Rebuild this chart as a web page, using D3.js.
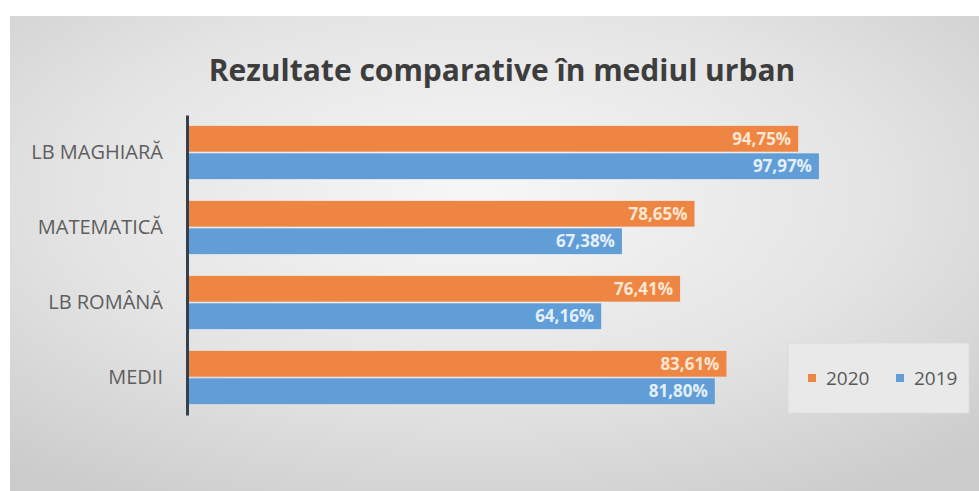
<!DOCTYPE html>
<html>
<head>
<meta charset="utf-8">
<script src="https://cdn.jsdelivr.net/npm/d3@7"></script>
<style>
  html, body { margin: 0; padding: 0; background: #ffffff; }
  #chart { width: 979px; height: 491px; }
</style>
</head>
<body>
<div id="chart"></div>
<script>
// Data
const categories = ['LB MAGHIARĂ', 'MATEMATICĂ', 'LB ROMÂNĂ', 'MEDII'];
const seriesNames = ['2020', '2019'];
const values2020 = [94.75, 78.65, 76.41, 83.61];
const values2019 = [97.97, 67.38, 64.16, 81.80];
const titleText = 'Rezultate comparative în mediul urban';

const width = 979, height = 491;
const colors = { '2020': '#ee8543', '2019': '#619ed8' };

const rows = categories.map((c, i) => ({ cat: c, '2020': values2020[i], '2019': values2019[i] }));

const svg = d3.select('#chart').append('svg')
  .attr('width', width)
  .attr('height', height);

// Background panel with soft radial shading
const defs = svg.append('defs');
const grad = defs.append('radialGradient')
  .attr('id', 'bg')
  .attr('cx', '48%').attr('cy', '38%').attr('r', '75%');
grad.append('stop').attr('offset', '0%').attr('stop-color', '#f7f7f7');
grad.append('stop').attr('offset', '55%').attr('stop-color', '#e4e4e4');
grad.append('stop').attr('offset', '100%').attr('stop-color', '#cbcbcb');

svg.append('rect')
  .attr('x', 10).attr('y', 16)
  .attr('width', width - 10).attr('height', height - 16)
  .attr('fill', 'url(#bg)');

// Title
svg.append('text')
  .attr('x', 502).attr('y', 81)
  .attr('text-anchor', 'middle')
  .style('font-family', '"Open Sans", sans-serif')
  .style('font-weight', 'bold')
  .style('font-size', '30px')
  .attr('fill', '#3d3d3d')
  .text(titleText);

// Scales
const x = d3.scaleLinear()
  .domain([0, 100])
  .range([188, 832]);

const y = d3.scaleBand()
  .domain(categories)
  .range([115, 415])
  .paddingInner(0.29)
  .paddingOuter(0.145);

const ySub = d3.scaleBand()
  .domain(seriesNames)
  .range([0, y.bandwidth()])
  .paddingInner(0.06);

// Bars
const groups = svg.append('g')
  .selectAll('g')
  .data(rows)
  .enter().append('g')
    .attr('transform', d => 'translate(0,' + y(d.cat) + ')');

const items = groups.selectAll('g')
  .data(d => seriesNames.map(k => ({ key: k, value: d[k] })))
  .enter().append('g');

items.append('rect')
  .attr('x', x(0))
  .attr('y', d => ySub(d.key))
  .attr('width', d => x(d.value) - x(0))
  .attr('height', ySub.bandwidth())
  .attr('fill', d => colors[d.key]);

items.append('text')
  .attr('x', d => x(d.value) - 7)
  .attr('y', d => ySub(d.key) + ySub.bandwidth() / 2)
  .attr('dy', '0.35em')
  .attr('text-anchor', 'end')
  .style('font-family', '"Open Sans", sans-serif')
  .style('font-weight', 'bold')
  .style('font-size', '17px')
  .attr('fill', d => d.key === '2020' ? '#fde6d2' : '#e4f0fb')
  .text(d => d3.format('.2f')(d.value).replace('.', ',') + '%');

// Category axis
const yAxis = svg.append('g')
  .attr('transform', 'translate(187,0)')
  .call(d3.axisLeft(y).tickSize(0).tickPadding(24));

yAxis.select('.domain')
  .attr('stroke', '#34404e')
  .attr('stroke-width', 3);

yAxis.selectAll('text')
  .style('font-family', '"Open Sans", sans-serif')
  .style('font-size', '20px')
  .attr('fill', '#5e5e5e');

// Legend
const legend = svg.append('g').attr('transform', 'translate(788,343)');
legend.append('rect')
  .attr('width', 181).attr('height', 70)
  .attr('fill', '#e9e9e9')
  .attr('stroke', '#dcdcdc');

const legendX = d3.scaleOrdinal().domain(seriesNames).range([20, 108]);

const li = legend.selectAll('.item')
  .data(seriesNames)
  .enter().append('g')
    .attr('class', 'item')
    .attr('transform', d => 'translate(' + legendX(d) + ',35)');

li.append('rect')
  .attr('x', 0).attr('y', -4)
  .attr('width', 8).attr('height', 8)
  .attr('fill', d => colors[d]);

li.append('text')
  .attr('x', 18).attr('dy', '0.35em')
  .style('font-family', '"Open Sans", sans-serif')
  .style('font-size', '19px')
  .attr('fill', '#595959')
  .text(d => d);
</script>
</body>
</html>
